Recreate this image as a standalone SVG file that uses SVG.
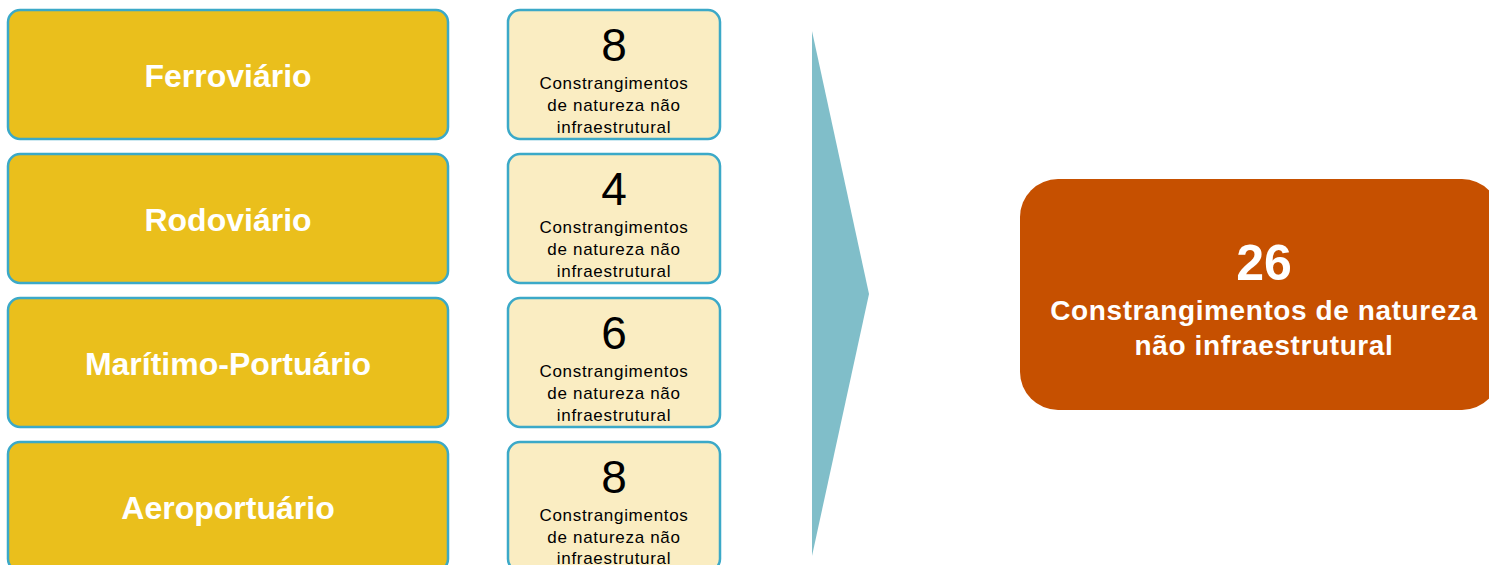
<svg xmlns="http://www.w3.org/2000/svg" width="1489" height="565" viewBox="0 0 1489 565">
<style>
.mode{fill:#EABF1C;stroke:#3BA9C8;stroke-width:2.5}
.cnt{fill:#FAEDC2;stroke:#3BA9C8;stroke-width:2.5}
.mt{font-family:"Liberation Sans",Arial,sans-serif;font-weight:bold;font-size:32px;fill:#fff;text-anchor:middle}
.num{font-family:"Liberation Sans",Arial,sans-serif;font-size:46px;fill:#000;text-anchor:middle}
.st{font-family:"Liberation Sans",Arial,sans-serif;font-size:17px;letter-spacing:0.7px;fill:#000;text-anchor:middle}
.tot{font-family:"Liberation Sans",Arial,sans-serif;font-weight:bold;fill:#fff;text-anchor:middle}
</style>
<rect width="1489" height="565" fill="#fff"/>
<g id="ferroviario">
<rect class="mode" x="8" y="10" width="440" height="129" rx="12"/>
<text class="mt" x="228" y="87">Ferroviário</text>
</g>
<g id="ferroviario-count">
<rect class="cnt" x="508" y="10" width="212" height="129" rx="12"/>
<text class="num" x="614" y="61">8</text>
<text class="st" x="614" y="89">Constrangimentos</text>
<text class="st" x="614" y="111">de natureza não</text>
<text class="st" x="614" y="133">infraestrutural</text>
</g>
<g id="rodoviario">
<rect class="mode" x="8" y="154" width="440" height="129" rx="12"/>
<text class="mt" x="228" y="231">Rodoviário</text>
</g>
<g id="rodoviario-count">
<rect class="cnt" x="508" y="154" width="212" height="129" rx="12"/>
<text class="num" x="614" y="205">4</text>
<text class="st" x="614" y="233">Constrangimentos</text>
<text class="st" x="614" y="255">de natureza não</text>
<text class="st" x="614" y="277">infraestrutural</text>
</g>
<g id="maritimo">
<rect class="mode" x="8" y="298" width="440" height="129" rx="12"/>
<text class="mt" x="228" y="375">Marítimo-Portuário</text>
</g>
<g id="maritimo-count">
<rect class="cnt" x="508" y="298" width="212" height="129" rx="12"/>
<text class="num" x="614" y="349">6</text>
<text class="st" x="614" y="377">Constrangimentos</text>
<text class="st" x="614" y="399">de natureza não</text>
<text class="st" x="614" y="421">infraestrutural</text>
</g>
<g id="aeroportuario">
<rect class="mode" x="8" y="442" width="440" height="129" rx="12"/>
<text class="mt" x="228" y="519">Aeroportuário</text>
</g>
<g id="aeroportuario-count">
<rect class="cnt" x="508" y="442" width="212" height="129" rx="12"/>
<text class="num" x="614" y="493">8</text>
<text class="st" x="614" y="521">Constrangimentos</text>
<text class="st" x="614" y="543">de natureza não</text>
<text class="st" x="614" y="564">infraestrutural</text>
</g>
<g id="connectors">
<polygon points="812,31 869,294 812,556" fill="#80BEC9"/>
</g>
<g id="total">
<rect x="1020" y="179" width="480" height="231" rx="38" fill="#C65000"/>
<text class="tot" x="1264" y="280" font-size="50">26</text>
<text class="tot" x="1264" y="320" font-size="28" letter-spacing="0.6">Constrangimentos de natureza</text>
<text class="tot" x="1264" y="355" font-size="28" letter-spacing="0.6">não infraestrutural</text>
</g>
</svg>
